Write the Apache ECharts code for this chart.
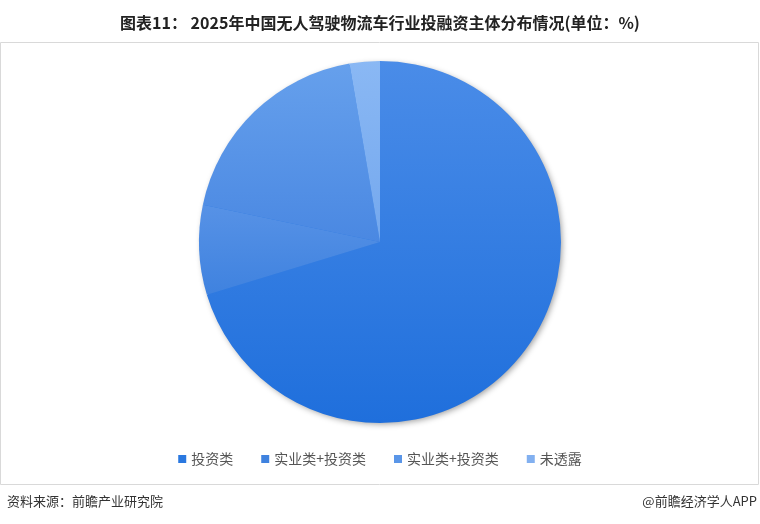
<!DOCTYPE html>
<html>
<head>
<meta charset="utf-8">
<script src="https://cdn.jsdelivr.net/npm/echarts@6/dist/echarts.min.js"></script>
<style>html,body{margin:0;padding:0;background:#fff}#c{width:760px;height:524px}</style>
</head>
<body>
<div id="c"></div>
<script>
var categories = ['投资类', '实业类+投资类', '实业类+投资类\u200b', '未透露'];
var values = [70.3, 8.0, 19.0, 2.7];
var titleText = '图表11： 2025年中国无人驾驶物流车行业投融资主体分布情况(单位：%)';
var sourceText = '资料来源：前瞻产业研究院';
var brandText = '@前瞻经济学人APP';

var grads = [
  ['#4a8ce8', '#1f6fdc'],
  ['#5792e6', '#3f82df'],
  ['#66a0ec', '#4a88e2'],
  ['#8ab8f4', '#74a8ee']
];
var legendColors = ['#2a78e0', '#3f82df', '#5a96e8', '#82b0f0'];

function grad(c) {
  return new echarts.graphic.LinearGradient(0, 0, 0, 1, [
    {offset: 0, color: c[0]}, {offset: 1, color: c[1]}
  ]);
}

var data = categories.map(function (n, i) {
  return {name: n, value: values[i], itemStyle: {color: grad(grads[i])}};
});

var chart = echarts.init(document.getElementById('c'));
chart.setOption({
  animation: false,
  title: {
    text: titleText, left: 'center', top: 10,
    textStyle: {fontSize: 16, fontWeight: 'bold', color: '#222', fontFamily: 'Noto Sans CJK SC'}
  },
  graphic: [
    {type: 'rect', shape: {x: 0.5, y: 42.5, width: 758, height: 442},
     style: {fill: 'none', stroke: '#d9d9d9', lineWidth: 1}, silent: true, z: -1},
    {type: 'text', left: 7, top: 495,
     style: {text: sourceText, fontSize: 13, fill: '#333', fontFamily: 'Noto Sans CJK SC'}},
    {type: 'text', right: 3, top: 495,
     style: {text: brandText, fontSize: 13, fill: '#333', fontFamily: 'Noto Sans CJK SC'}}
  ],
  legend: {
    bottom: 53, left: 'center', itemWidth: 8, itemHeight: 8, itemGap: 28,
    icon: 'rect',
    textStyle: {fontSize: 14, color: '#555', fontFamily: 'Noto Sans CJK SC'},
    formatter: function (n) { return n.replace('\u200b', ''); },
    data: categories.map(function (n, i) { return {name: n, itemStyle: {color: legendColors[i]}}; })
  },
  series: [{
    type: 'pie',
    silent: true,
    center: [380, 242],
    radius: [0, 180],
    label: {show: false},
    labelLine: {show: false},
    itemStyle: {
      color: '#2a78e0',
      shadowBlur: 6, shadowOffsetX: 2, shadowOffsetY: 2, shadowColor: 'rgba(0,0,0,0.4)'
    },
    emphasis: {disabled: true},
    z: 1,
    data: [{name: '__bg', value: 1}]
  }, {
    type: 'pie',
    center: [380, 242],
    radius: [0, 181],
    startAngle: 90,
    clockwise: true,
    label: {show: false},
    labelLine: {show: false},
    itemStyle: {borderWidth: 0},
    emphasis: {disabled: true},
    z: 2,
    data: data
  }]
});
</script>
</body>
</html>
